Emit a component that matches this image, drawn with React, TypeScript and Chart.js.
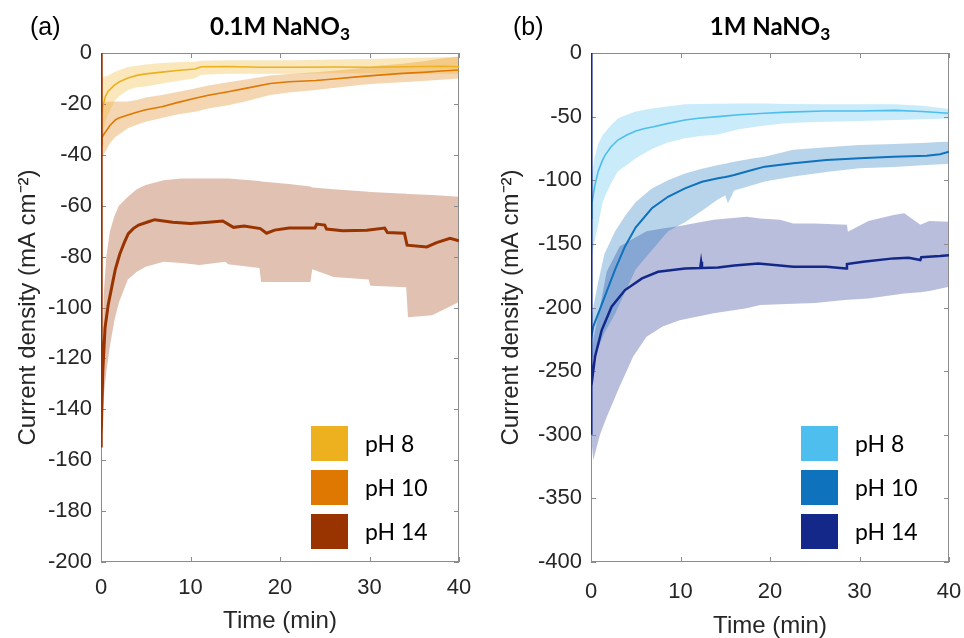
import React, { useEffect, useRef } from "react";
import { Chart, registerables } from "chart.js";
Chart.register(...registerables);

// ---------- Panel (a): 0.1M NaNO3 ----------
const tA8 = [0, 0.2, 0.5, 0.8, 1.5, 2, 3, 4, 5, 6.8, 8.5, 10.5, 11.2, 14, 18, 22, 26, 30, 34, 38, 40];
const mA8 = [-25, -21, -17, -15, -12.6, -11.4, -9.8, -8.8, -8.2, -7.5, -6.9, -6.3, -5.4, -5.3, -5.6, -5.6, -5.5, -5.6, -5.4, -5.2, -5.4];
const uA8 = [-11, -9.5, -9.2, -8.8, -7.5, -6.8, -5.5, -5.0, -4.5, -3.9, -3.6, -3.4, -3.0, -2.8, -2.8, -2.8, -2.6, -2.4, -2.0, -1.7, -1.5];
const lA8 = [-38, -32, -27, -24, -19, -17, -14.5, -13.5, -13.2, -12, -11, -9.9, -8.5, -8.2, -8.2, -8.2, -8.0, -8.0, -8.0, -8.2, -8.3];

const tA10 = [0, 0.1, 0.3, 0.6, 1, 1.6, 2, 3, 4, 5, 6.8, 8.5, 10.5, 12, 14.2, 16, 18.9, 21, 24, 26, 28.9, 31, 33.7, 36, 38, 40];
const mA10 = [-36, -33.5, -32, -30.5, -28.5, -26.3, -25.5, -24.4, -23.3, -22.3, -21.1, -19.5, -17.8, -16.6, -15.2, -14, -12, -11.3, -10.8, -10.2, -9.3, -8.7, -8.0, -7.6, -7.1, -6.7];
const uA10 = [-22, -20, -19.5, -19.3, -19.2, -19.1, -19.1, -19.1, -18.5, -17.5, -16.5, -15.3, -13.9, -12.8, -11.5, -10.5, -8.8, -8.3, -7.6, -7.0, -6.0, -5.0, -4.2, -3.2, -2.2, -1.5];
const lA10 = [-42, -41, -40, -38, -35.5, -33, -32, -29.6, -28.2, -27, -25.5, -24.2, -23.1, -21.8, -20.5, -19.2, -16.5, -15.5, -14.5, -13.8, -12.6, -12, -11.5, -11, -10.5, -10];

const tA14 = [0, 0, 0.05, 0.2, 0.45, 0.8, 1.2, 1.6, 2.1, 2.6, 3.05, 3.6, 4.2, 5.3, 6, 8, 10, 12, 13.6, 14.8, 16, 17.8, 18.5, 19.4, 21, 23.9, 24.1, 25, 25.2, 27, 29.7, 31.7, 32, 33.9, 34.2, 36.4, 37.5, 39, 40];
const mA14 = [0, -155, -150, -125, -108, -99, -92, -85, -79, -74.5, -71, -69, -67.6, -66.3, -65.5, -66.5, -67, -66.5, -66, -68.5, -68, -69, -70.8, -69.6, -68.8, -68.8, -67.2, -67.6, -69.2, -69.8, -69.6, -68.8, -70.5, -70.8, -75.5, -76.2, -74.5, -72.8, -73.8];
const tA14b = [0.05, 0.3, 0.6, 1, 1.5, 2, 3, 4, 5, 7, 9, 11, 13.9, 14.2, 17.7, 17.9, 21, 23.4, 23.6, 26, 29.9, 30.1, 34.1, 34.3, 37, 40];
const uA14 = [-150, -95, -80, -70, -64, -60, -56.5, -53.5, -51.9, -50, -49.3, -49.3, -49.3, -49.3, -50.3, -50.5, -51.5, -52.5, -52.8, -53.5, -54.5, -54.6, -55.3, -55.4, -55.8, -56.5];
const lA14 = [-158, -135, -125, -115, -105, -98, -89, -86, -84, -82, -82.5, -83.3, -82, -83, -84.5, -90, -90, -90, -85, -88, -89, -91.5, -92, -103.8, -103, -97.8];

// ---------- Panel (b): 1M NaNO3 ----------
const tB8 = [0, 0.1, 0.4, 0.8, 1.3, 1.6, 2.2, 3, 4, 5, 6, 7, 8.5, 10.5, 12, 14.2, 16.5, 19.4, 22, 26, 30, 34, 37, 40];
const mB8 = [-130, -118, -105, -93, -84, -80, -74, -68.4, -64.5, -61.3, -59.3, -57.9, -55.5, -52.7, -51.3, -50, -48.5, -47.4, -46.5, -45.6, -45.6, -45.1, -46, -47.4];
const uB8 = [-100, -95, -82, -72, -64.5, -62, -57, -51.4, -48.5, -46, -44.5, -43.5, -42, -40.3, -40, -39.8, -39.6, -39.6, -40, -40.3, -40.3, -40.3, -41.5, -44];
const lB8 = [-165, -160, -148, -135, -117, -112, -103, -93, -88, -82.8, -78.5, -74.9, -70.5, -67, -65.5, -64, -60, -57, -55, -54, -53.5, -52.7, -52, -51.4];

const tB10 = [0, 0.25, 0.8, 1.5, 2.7, 3.8, 5, 6.8, 8.6, 10.5, 12.4, 14.2, 15, 15.3, 16, 18, 19.4, 22.6, 26.3, 30, 33.8, 37.5, 39, 40];
const mB10 = [-225, -215, -205, -192, -170, -152, -137, -122, -113, -106.4, -101.2, -98.5, -97.5, -97, -95.9, -92, -89.3, -86.7, -84.1, -82.8, -81.5, -80.7, -79.5, -77.6];
const uB10 = [-210, -200, -180, -158, -140, -128, -117, -106.4, -100, -94.6, -91, -88, -87, -86.5, -85.5, -83, -81.5, -76, -74, -72.3, -71.5, -70.5, -70, -69.7];
const lB10 = [-235, -240, -232, -220, -205, -188, -170, -155, -140, -133, -124, -115, -112, -118, -108, -104, -101, -97, -93.5, -90.6, -89.5, -88, -87.5, -87];

const tB14 = [0, 0, 0.07, 0.45, 1.2, 2.3, 3.8, 5.7, 7.5, 10.5, 12.2, 12.3, 12.4, 14.2, 16, 18.7, 22.6, 26.3, 28.5, 28.6, 30.4, 33.8, 35.5, 36.8, 36.9, 39, 40];
const mB14 = [0, -300, -262, -238.7, -217.7, -199.4, -186.3, -177.1, -171.9, -169.3, -169, -164, -169, -168.5, -167, -165.4, -168, -168, -169.3, -165.8, -164, -161.4, -161, -162.7, -160.5, -159.6, -159];
const tB14b = [0, 0.25, 1, 1.75, 3.2, 4.7, 6.2, 8, 9.9, 13.7, 17.4, 18.9, 21.1, 22.6, 25, 28.6, 28.7, 31, 33.8, 35, 36.8, 37.8, 40];
const uB14 = [-260, -225, -200, -172, -152, -146, -140, -138, -136, -131, -128.6, -130, -131, -134, -134, -135, -140.5, -132, -127.4, -126, -135, -132, -132.6];
const lB14 = [-300, -320, -300, -286, -262, -238.7, -223, -215, -210, -204.6, -200.5, -198, -197.5, -197, -196.5, -194, -194, -193, -190.2, -189, -188, -187, -183.7];

const legendLabels = ["pH 8", "pH 10", "pH 14"];
const xTicks = { min: 0, max: 40, step: 10 };
const yTicksA = { min: -200, max: 0, step: 20 };
const yTicksB = { min: -400, max: 0, step: 50 };

type Series = {
  label: string; color: string; band: string; lw: number;
  t: number[]; m: number[]; bt: number[]; bu: number[]; bl: number[];
};

const seriesA: Series[] = [
  { label: legendLabels[0], color: "#EDB120", band: "rgba(237,177,32,0.3)", lw: 1.6, t: tA8, m: mA8, bt: tA8, bu: uA8, bl: lA8 },
  { label: legendLabels[1], color: "#DE7800", band: "rgba(222,120,0,0.3)", lw: 1.6, t: tA10, m: mA10, bt: tA10, bu: uA10, bl: lA10 },
  { label: legendLabels[2], color: "#993300", band: "rgba(153,51,0,0.3)", lw: 3, t: tA14, m: mA14, bt: tA14b, bu: uA14, bl: lA14 },
];
const seriesB: Series[] = [
  { label: legendLabels[0], color: "#4DBEEE", band: "rgba(77,190,238,0.3)", lw: 1.6, t: tB8, m: mB8, bt: tB8, bu: uB8, bl: lB8 },
  { label: legendLabels[1], color: "#0F72BD", band: "rgba(15,114,189,0.3)", lw: 2, t: tB10, m: mB10, bt: tB10, bu: uB10, bl: lB10 },
  { label: legendLabels[2], color: "#14288A", band: "rgba(20,40,138,0.3)", lw: 2.5, t: tB14, m: mB14, bt: tB14b, bu: uB14, bl: lB14 },
];

const TICK_FONT = "'Liberation Sans', Arial, sans-serif";
const TEXT_COLOR = "#262626";

function makeFramePlugin() {
  return {
    id: "frameTicks",
    beforeDatasetsDraw(chart: any) {
      const { ctx, chartArea: a, scales } = chart;
      const x = scales.x, y = scales.y;
      ctx.save();
      ctx.strokeStyle = "#8c8c8c";
      ctx.lineWidth = 1;
      ctx.strokeRect(a.left + 0.5, a.top + 0.5, a.right - a.left - 1, a.bottom - a.top - 1);
      ctx.beginPath();
      const L = 5;
      x.ticks.forEach((t: any) => {
        const px = Math.round(x.getPixelForValue(t.value)) + 0.5;
        ctx.moveTo(px, a.bottom); ctx.lineTo(px, a.bottom - L);
        ctx.moveTo(px, a.top); ctx.lineTo(px, a.top + L);
      });
      y.ticks.forEach((t: any) => {
        const py = Math.round(y.getPixelForValue(t.value)) + 0.5;
        ctx.moveTo(a.left, py); ctx.lineTo(a.left + L, py);
        ctx.moveTo(a.right, py); ctx.lineTo(a.right - L, py);
      });
      ctx.stroke();
      ctx.restore();
    },
  };
}

function makeLegendPlugin(series: Series[]) {
  return {
    id: "boxLegend",
    afterDraw(chart: any) {
      const { ctx, chartArea: a } = chart;
      ctx.save();
      const bx = a.left + 210;
      const by = a.top + 373;
      const w = 37, h = 35, gap = 44;
      ctx.font = "23px Lato, 'Open Sans', sans-serif";
      ctx.textBaseline = "middle";
      ctx.textAlign = "left";
      series.forEach((s, i) => {
        const top = by + i * gap;
        ctx.fillStyle = s.color;
        ctx.fillRect(bx, top, w, h);
        ctx.fillStyle = "#000";
        ctx.fillText(s.label, bx + w + 17, top + h / 2 + 1);
      });
      ctx.restore();
    },
  };
}

type PanelProps = {
  left: number; series: Series[]; yt: { min: number; max: number; step: number };
  padRight: number; yWidth: number; xTitlePad: number; yTitlePad: number; xTickPad: number;
};

function Panel({ left, series, yt, padRight, yWidth, xTitlePad, yTitlePad, xTickPad }: PanelProps) {
  const ref = useRef<HTMLCanvasElement | null>(null);
  useEffect(() => {
    if (!ref.current) return;
    const pts = (t: number[], v: number[]) => t.map((x, i) => ({ x, y: v[i] }));
    const lines = [...series].reverse().map((s) => ({
      label: s.label,
      data: pts(s.t, s.m),
      borderColor: s.color,
      borderWidth: s.lw,
      pointRadius: 0,
      fill: false,
      tension: 0,
    }));
    const bands: any[] = [];
    series.forEach((s) => {
      bands.push({
        label: s.label + " upper",
        data: pts(s.bt, s.bu),
        borderColor: "rgba(0,0,0,0)",
        borderWidth: 0,
        pointRadius: 0,
        backgroundColor: s.band,
        fill: "+1",
        tension: 0,
      });
      bands.push({
        label: s.label + " lower",
        data: pts(s.bt, s.bl),
        borderColor: "rgba(0,0,0,0)",
        borderWidth: 0,
        pointRadius: 0,
        fill: false,
        tension: 0,
      });
    });
    const chart = new Chart(ref.current, {
      type: "line",
      data: { datasets: [...lines, ...bands] as any },
      options: {
        animation: false,
        responsive: false,
        maintainAspectRatio: false,
        events: [],
        layout: { padding: { left: 8, right: padRight, top: 53, bottom: 0 } },
        plugins: {
          legend: { display: false },
          tooltip: { enabled: false },
          title: { display: false },
          filler: { drawTime: "beforeDatasetsDraw" },
        } as any,
        scales: {
          x: {
            type: "linear",
            min: xTicks.min,
            max: xTicks.max,
            ticks: { stepSize: xTicks.step, padding: xTickPad, color: TEXT_COLOR, font: { family: TICK_FONT, size: 22 }, maxRotation: 0 },
            grid: { display: false, drawTicks: false },
            border: { display: false },
            title: { display: true, text: "Time (min)", color: TEXT_COLOR, font: { family: TICK_FONT, size: 24 }, padding: { top: 0, bottom: xTitlePad } },
            afterFit: (s: any) => { s.height = 76; s.paddingLeft = 0; s.paddingRight = 0; },
          },
          y: {
            type: "linear",
            min: yt.min,
            max: yt.max,
            ticks: { stepSize: yt.step, padding: 9, color: TEXT_COLOR, font: { family: TICK_FONT, size: 22 } },
            grid: { display: false, drawTicks: false },
            border: { display: false },
            title: { display: true, text: "Current density (mA cm\u207B\u00B2)", color: TEXT_COLOR, font: { family: TICK_FONT, size: 24 }, padding: { top: yTitlePad, bottom: 0 } },
            afterFit: (s: any) => { s.width = yWidth; s.paddingTop = 0; s.paddingBottom = 0; },
          },
        } as any,
      },
      plugins: [makeFramePlugin(), makeLegendPlugin(series)],
    });
    return () => chart.destroy();
  }, []);
  return (
    <canvas
      ref={ref}
      width={482}
      height={638}
      style={{ position: "absolute", left, top: 0, width: 482, height: 638 }}
    />
  );
}

const labelStyle: React.CSSProperties = {
  position: "absolute",
  fontFamily: TICK_FONT,
  fontSize: 25,
  lineHeight: "30px",
  color: "#000",
  whiteSpace: "nowrap",
};
const titleStyle: React.CSSProperties = {
  position: "absolute",
  fontFamily: "Lato, 'Open Sans', sans-serif",
  fontWeight: 700,
  fontSize: 24,
  lineHeight: "30px",
  color: "#000",
  textAlign: "center",
  whiteSpace: "nowrap",
};
const subStyle: React.CSSProperties = { fontSize: "0.72em", verticalAlign: "baseline", position: "relative", top: "0.3em" };

export default function App() {
  return (
    <div style={{ position: "absolute", left: 0, top: 0, width: 964, height: 638, background: "#fff", overflow: "hidden" }}>
      <Panel left={0} series={seriesA} yt={yTicksA} padRight={23} yWidth={93} xTitlePad={2} yTitlePad={6} xTickPad={13} />
      <Panel left={482} series={seriesB} yt={yTicksB} padRight={15} yWidth={101} xTitlePad={-3} yTitlePad={7} xTickPad={17} />
      <div style={{ ...labelStyle, left: 30, top: 11 }}>(a)</div>
      <div style={{ ...labelStyle, left: 513, top: 11 }}>(b)</div>
      <div style={{ ...titleStyle, left: 80, width: 400, top: 11 }}>
        0.1M NaNO<sub style={subStyle}>3</sub>
      </div>
      <div style={{ ...titleStyle, left: 570, width: 400, top: 11 }}>
        1M NaNO<sub style={subStyle}>3</sub>
      </div>
    </div>
  );
}
